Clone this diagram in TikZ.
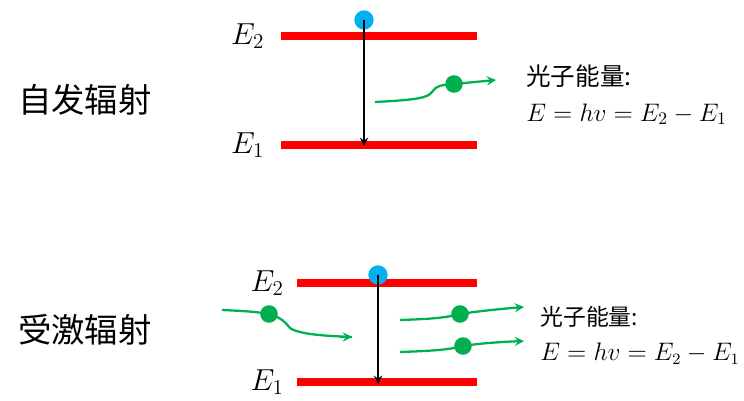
\documentclass[tikz,border=0pt]{standalone}
\usepackage{fontspec}
\newfontfamily\cjk{Noto Sans CJK SC}
\usetikzlibrary{positioning, arrows}
\definecolor{lvred}{RGB}{255,0,0}
\definecolor{eblue}{RGB}{0,176,240}
\definecolor{pgreen}{RGB}{0,176,80}
\begin{document}
\begin{tikzpicture}[x=0.02cm,y=-0.02cm]

\tikzstyle{arrow} = [line width=1.1pt,->,>=stealth]
\tikzset{level/.style = {draw=lvred, line width=4pt}, }
\tikzset{electron/.style = {circle, fill=eblue, inner sep=0pt, minimum size=11pt}, }
\tikzset{photon/.style = {circle, fill=pgreen, inner sep=0pt, minimum size=10pt}, }
\tikzset{ray/.style = {draw=pgreen, line width=1.3pt, >=stealth}, }
\tikzset{elabel/.style = {font=\fontsize{18}{20}\selectfont}, }
\tikzset{title/.style = {font=\cjk\fontsize{19}{22}\selectfont, anchor=west}, }
\tikzset{energy/.style = {anchor=west, align=left, inner sep=0pt}, }
\useasboundingbox (0,0) rectangle (744,401);

% spontaneous emission
\node[title] (T1) at (12,100) {自发辐射};
\coordinate (U2a) at (281,36); \coordinate (U2b) at (477,36);
\coordinate (U1a) at (281,145); \coordinate (U1b) at (477,145);
\draw[level] (U2a) -- (U2b);
\draw[level] (U1a) -- (U1b);
\node[elabel, left=6pt of U2a] (UE2) {$E_2$};
\node[elabel, left=6pt of U1a] (UE1) {$E_1$};
\node[electron] (Ue) at (364,20) {};
\coordinate (Ud) at (364,146);
\draw[arrow] (Ue.center) -- (Ud);
\coordinate (Us) at (375,102);
\node[photon] (Up) at (454,84) {};
\coordinate (Uf) at (496,80);
\draw[ray] (Us) .. controls (415,100) and (428,98) .. (432,92)
  .. controls (436,86) and (440,85) .. (Up.center);
\draw[ray,->] (Up.center) -- (Uf);
\node[energy] (UT) at (526,95) {{\cjk\fontsize{14}{16}\selectfont 光子能量:}\\[8pt]
  {\fontsize{14.5}{17}\selectfont $E=hv=E_2-E_1$}};

% stimulated emission
\node[title] (T2) at (12,330) {受激辐射};
\coordinate (L2a) at (297,283); \coordinate (L2b) at (477,283);
\coordinate (L1a) at (297,382); \coordinate (L1b) at (477,382);
\draw[level] (L2a) -- (L2b);
\draw[level] (L1a) -- (L1b);
\node[elabel, left=4pt of L2a] (LE2) {$E_2$};
\node[elabel, left=4pt of L1a] (LE1) {$E_1$};
\node[electron] (Le) at (378,275) {};
\coordinate (Ld) at (378,384);
\draw[arrow] (Le.center) -- (Ld);
% incoming photon
\coordinate (Li) at (222,310);
\node[photon] (Lp) at (269,314) {};
\coordinate (Lo) at (352,337);
\draw[ray] (Li) .. controls (245,311) and (258,312) .. (Lp.center)
  .. controls (282,318) and (285,322) .. (290,328)
  .. controls (300,335) and (330,336) .. (Lo);
\draw[ray,->] (340,337) -- (Lo);
% two outgoing photons
\coordinate (La) at (400,320);
\node[photon] (Lq) at (460,314) {};
\coordinate (Lb) at (524,307);
\draw[ray] (La) .. controls (430,319) and (445,318) .. (Lq.center);
\draw[ray,->] (Lq.center) .. controls (480,311) and (500,309) .. (Lb);
\coordinate (Lc) at (400,352);
\node[photon] (Lr) at (463,346) {};
\coordinate (Le2) at (524,341);
\draw[ray] (Lc) .. controls (430,351) and (448,350) .. (Lr.center);
\draw[ray,->] (Lr.center) .. controls (483,343) and (500,342) .. (Le2);
\node[energy] (LT) at (540,335) {{\cjk\fontsize{13}{15}\selectfont 光子能量:}\\[8pt]
  {\fontsize{13.4}{16}\selectfont $E=hv=E_2-E_1$}};

\end{tikzpicture}
\end{document}
